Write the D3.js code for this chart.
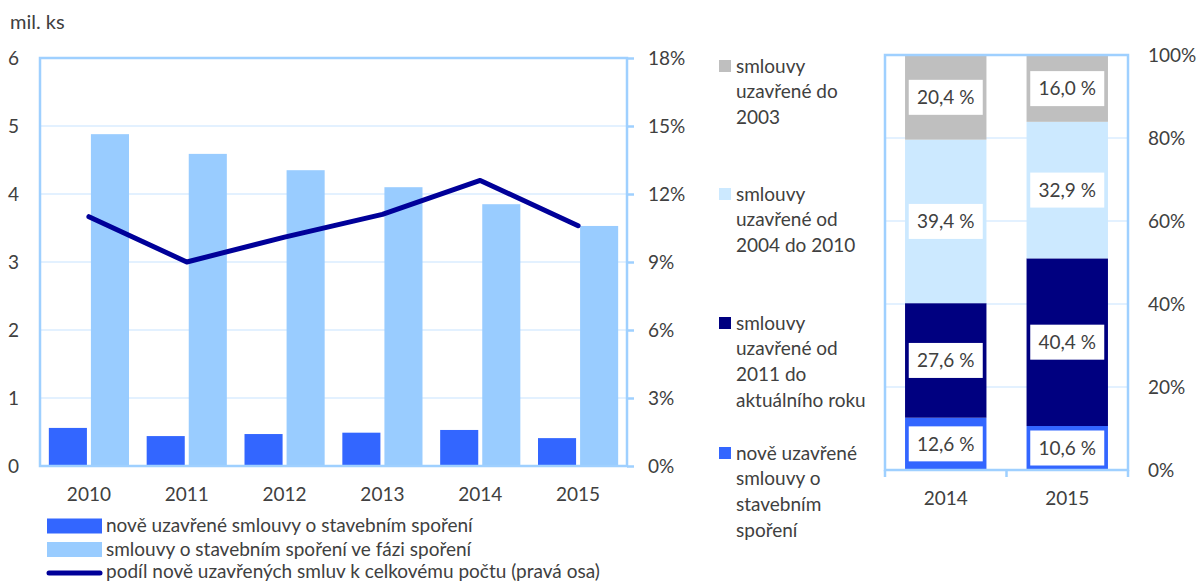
<!DOCTYPE html>
<html><head><meta charset="utf-8">
<script src="https://cdn.jsdelivr.net/npm/d3@7"></script>
<style>
body{margin:0;background:#fff;}
svg{display:block;}
text{font-family:Lato,"Open Sans",sans-serif;fill:#404040;}
</style></head>
<body>
<svg id="c" width="1199" height="583"></svg>
<script>
// ---- data: left chart ----
const years = ["2010","2011","2012","2013","2014","2015"];
const newContracts = [0.56, 0.44, 0.47, 0.49, 0.53, 0.41];       // mil. ks
const savingContracts = [4.88, 4.59, 4.35, 4.10, 3.85, 3.53];    // mil. ks
const shareNew = [11.0, 9.0, 10.1, 11.1, 12.6, 10.6];            // % (right axis)
const leftTicks = [0,1,2,3,4,5,6];
const rightTicks = [0,3,6,9,12,15,18];
const leftLegend = ["nově uzavřené smlouvy o stavebním spoření",
                    "smlouvy o stavebním spoření ve fázi spoření",
                    "podíl nově uzavřených smluv k celkovému počtu (pravá osa)"];
// ---- data: right chart ----
const years2 = ["2014","2015"];
const segNames = ["new","from2011","from2004","to2003"];
const segNew = [12.6, 10.6];
const seg2011 = [27.6, 40.4];
const seg2004 = [39.4, 32.9];
const seg2003 = [20.4, 16.0];
const pctTicks = [0,20,40,60,80,100];
const rightLegend = [
  ["smlouvy","uzavřené do","2003"],
  ["smlouvy","uzavřené od","2004 do 2010"],
  ["smlouvy","uzavřené od","2011 do","aktuálního roku"],
  ["nově uzavřené","smlouvy o","stavebním","spoření"]
];

const C = {blue:"#3366ff", light:"#99ccff", navy:"#000099", frame:"#9fd0ff", grid:"#e3f1ff",
           grey:"#bfbfbf", pale:"#cce9ff", dark:"#000080"};
const FS = 19;
const svg = d3.select("#c");

// ================= LEFT CHART =================
const L = {x0:40, x1:627, y0:58, y1:466};
const x = d3.scaleBand().domain(years).range([L.x0, L.x1]);
const xs = d3.scaleBand().domain(["n","s"]).range([0, x.bandwidth()]).paddingInner(0.095).paddingOuter(0.21);
const yL = d3.scaleLinear().domain([0,6]).range([L.y1, L.y0]);
const yR = d3.scaleLinear().domain([0,18]).range([L.y1, L.y0]);

const g = svg.append("g");
g.selectAll(".gl").data(leftTicks.slice(1,-1)).join("line")
  .attr("x1",L.x0).attr("x2",L.x1).attr("y1",d=>yL(d)).attr("y2",d=>yL(d))
  .attr("stroke",C.grid).attr("stroke-width",2);

g.selectAll(".bn").data(years).join("rect")
  .attr("x",d=>x(d)+xs("n")).attr("width",xs.bandwidth())
  .attr("y",(d,i)=>yL(newContracts[i])).attr("height",(d,i)=>yL(0)-yL(newContracts[i]))
  .attr("fill",C.blue);
g.selectAll(".bs").data(years).join("rect")
  .attr("x",d=>x(d)+xs("s")).attr("width",xs.bandwidth())
  .attr("y",(d,i)=>yL(savingContracts[i])).attr("height",(d,i)=>yL(0)-yL(savingContracts[i]))
  .attr("fill",C.light);

const line = d3.line().x((d,i)=>x(years[i])+x.bandwidth()/2).y(d=>yR(d));
g.append("path").datum(shareNew).attr("d",line).attr("fill","none")
  .attr("stroke",C.navy).attr("stroke-width",5).attr("stroke-linecap","round").attr("stroke-linejoin","round");

g.append("rect").attr("x",L.x0).attr("y",L.y0).attr("width",L.x1-L.x0).attr("height",L.y1-L.y0)
  .attr("fill","none").attr("stroke",C.frame).attr("stroke-width",2.5);

// left axis labels
g.selectAll(".ll").data(leftTicks).join("text")
  .attr("x",19).attr("y",d=>yL(d)).attr("dy","0.35em").attr("text-anchor","end")
  .attr("font-size",FS).text(d=>d);
// right axis
const axR = d3.axisRight(yR).tickValues(rightTicks).tickSize(7).tickPadding(14).tickFormat(d=>d+"%");
const gr = g.append("g").attr("transform",`translate(${L.x1},0)`).call(axR);
gr.select(".domain").remove();
gr.selectAll(".tick line").attr("stroke",C.frame).attr("stroke-width",2.5);
gr.selectAll(".tick text").attr("font-size",FS).attr("font-family","Lato").attr("fill","#404040");
// x labels
g.selectAll(".xl").data(years).join("text")
  .attr("x",d=>x(d)+x.bandwidth()/2).attr("y",494).attr("dy","0.35em").attr("text-anchor","middle")
  .attr("font-size",FS).text(d=>d);
// unit
g.append("text").attr("x",10).attr("y",22).attr("dy","0.35em").attr("font-size",FS+1).text("mil. ks");

// legend
const lg = g.append("g");
const legRowY = [526, 549.5, 572];
[C.blue, C.light].forEach((c,i)=>{
  lg.append("rect").attr("x",47).attr("y",legRowY[i]-7.5).attr("width",55).attr("height",15).attr("fill",c);
});
lg.append("line").attr("x1",49).attr("x2",100).attr("y1",legRowY[2]+1).attr("y2",legRowY[2]+1)
  .attr("stroke",C.navy).attr("stroke-width",5).attr("stroke-linecap","round");
lg.selectAll("text").data(leftLegend).join("text")
  .attr("x",106).attr("y",(d,i)=>legRowY[i]).attr("dy","0.33em").attr("font-size",FS).text(d=>d);

// ================= RIGHT CHART =================
const R = {x0:885, x1:1128, y0:55, y1:470};
const x2 = d3.scaleBand().domain(years2).range([R.x0,R.x1]).paddingInner(0.33).paddingOuter(0.165);
const y2 = d3.scaleLinear().domain([0,100]).range([R.y1,R.y0]);
const h = svg.append("g");
h.selectAll(".gl").data(pctTicks.slice(1,-1)).join("line")
  .attr("x1",R.x0).attr("x2",R.x1).attr("y1",d=>y2(d)).attr("y2",d=>y2(d))
  .attr("stroke",C.grid).attr("stroke-width",2);

const rows = years2.map((yr,i)=>({year:yr, new:segNew[i], from2011:seg2011[i], from2004:seg2004[i], to2003:seg2003[i]}));
const stack = d3.stack().keys(segNames)(rows);
const segColor = {new:C.blue, from2011:C.dark, from2004:C.pale, to2003:C.grey};
stack.forEach(layer=>{
  h.selectAll(null).data(layer).join("rect")
    .attr("x",d=>x2(d.data.year)).attr("width",x2.bandwidth())
    .attr("y",d=>y2(d[1])).attr("height",d=>y2(d[0])-y2(d[1]))
    .attr("fill",segColor[layer.key]);
});
const fmt = v=>v.toFixed(1).replace(".",",")+" %";
stack.forEach(layer=>{
  const gg = h.selectAll(null).data(layer).join("g")
    .attr("transform",d=>`translate(${x2(d.data.year)+x2.bandwidth()/2},${(y2(d[0])+y2(d[1]))/2})`);
  gg.append("rect").attr("x",-37).attr("y",-17.5).attr("width",74).attr("height",35).attr("fill","#fff");
  gg.append("text").attr("text-anchor","middle").attr("dy","0.35em").attr("font-size",FS)
    .text(d=>fmt(d[1]-d[0]));
});
h.append("rect").attr("x",R.x0).attr("y",R.y0).attr("width",R.x1-R.x0).attr("height",R.y1-R.y0)
  .attr("fill","none").attr("stroke",C.frame).attr("stroke-width",2.5);
// x ticks
const tickXs = [R.x0, (R.x0+R.x1)/2, R.x1];
h.selectAll(".xt").data(tickXs).join("line").attr("x1",d=>d).attr("x2",d=>d)
  .attr("y1",R.y1).attr("y2",R.y1+7).attr("stroke",C.frame).attr("stroke-width",2.5);
h.selectAll(".xl").data(years2).join("text")
  .attr("x",d=>x2(d)+x2.bandwidth()/2).attr("y",498).attr("dy","0.35em").attr("text-anchor","middle")
  .attr("font-size",FS).text(d=>d);
h.selectAll(".yl").data(pctTicks).join("text")
  .attr("x",1148).attr("y",d=>y2(d)).attr("dy","0.35em").attr("font-size",FS).text(d=>d+"%");

// right legend
const legCols = [C.grey, C.pale, C.dark, C.blue];
const legY = [66, 194, 323, 453];
rightLegend.forEach((lines,i)=>{
  h.append("rect").attr("x",719).attr("y",legY[i]-6).attr("width",12).attr("height",12).attr("fill",legCols[i]);
  lines.forEach((t,j)=>{
    h.append("text").attr("x",736).attr("y",legY[i]+j*25.8).attr("dy","0.35em").attr("font-size",FS).text(t);
  });
});
</script>
</body></html>
